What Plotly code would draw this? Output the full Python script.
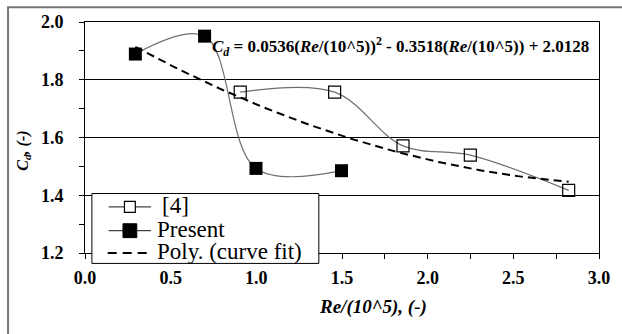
import numpy as np
import plotly.graph_objects as go

# Reference data set [4]
ref_re = [0.906, 1.457, 1.856, 2.249, 2.823]
ref_cd = [1.757, 1.757, 1.571, 1.539, 1.417]

# Present measurements
present_re = [0.294, 0.698, 0.998, 1.497]
present_cd = [1.889, 1.951, 1.493, 1.485]

# Quadratic curve-fit coefficients (a*x^2 + b*x + c)
fit_coeffs = [0.0536, -0.3518, 2.0128]
fit_range = [0.294, 2.823]

x_ticks = [0.0, 0.5, 1.0, 1.5, 2.0, 2.5, 3.0]
y_ticks = [1.2, 1.4, 1.6, 1.8, 2.0]

series_names = ["[4]", "Present", "Poly. (curve fit)"]

W, H = 622, 334
L, R, T, B = 85, 16, 20, 81
pw, ph = W - L - R, H - T - B


def px(x):
    """Pixel column -> paper fraction."""
    return (x - L) / pw


def py(y):
    """Pixel row -> paper fraction."""
    return (H - B - y) / ph


fit_x = np.linspace(fit_range[0], fit_range[1], 120)
fit_y = np.polyval(fit_coeffs, fit_x)

serif = "Liberation Serif"
curve_grey = "#6e6e6e"
fit_dash = "9px,6px"

fig = go.Figure()
fig.add_trace(go.Scatter(
    x=ref_re, y=ref_cd, name=series_names[0], mode="lines+markers",
    line=dict(color=curve_grey, width=1.2, shape="spline", smoothing=1),
    marker=dict(symbol="square-open", size=12, color="black", line=dict(width=1.2)),
))
fig.add_trace(go.Scatter(
    x=present_re, y=present_cd, name=series_names[1], mode="lines+markers",
    line=dict(color=curve_grey, width=1.2, shape="spline", smoothing=1),
    marker=dict(symbol="square", size=13, color="black"),
))
fig.add_trace(go.Scatter(
    x=fit_x, y=fit_y, name=series_names[2], mode="lines",
    line=dict(color="black", width=2, dash="8px,5px"),
))

axis_common = dict(
    showline=True, linecolor="black", linewidth=1, mirror=True,
    ticks="outside", ticklen=5, tickcolor="black", tickwidth=1,
    tickfont=dict(family=serif, size=18, color="black", weight="bold"),
    tickformat=".1f", zeroline=False,
)

fig.update_xaxes(
    range=[0, 3], tickvals=x_ticks, showgrid=False,
    minor=dict(dtick=0.25, ticks="outside", ticklen=5, tickcolor="black", showgrid=False),
    ticklabelstandoff=3,
    **axis_common,
)
fig.update_yaxes(
    range=[1.2, 2.0], tickvals=y_ticks, showgrid=True, gridcolor="black", gridwidth=1,
    minor=dict(dtick=0.1, ticks="outside", ticklen=5, tickcolor="black", showgrid=False),
    ticklabelstandoff=12,
    **axis_common,
)

equation = ("<i>C<sub>d</sub></i> = 0.0536(<i>Re</i>/(10^5))<sup>2</sup> - 0.3518(<i>Re</i>/(10^5))"
            " + 2.0128")

# Legend box drawn by hand so that entry spacing is compact
leg_box = dict(x0=92, x1=322, y0=193, y1=263.5)
row_y = [205, 229, 251.5]
glyph_x = (109, 152)
text_x = [161, 156, 156]

shapes = [
    # outer frame of the figure
    dict(type="rect", xref="paper", yref="paper",
         x0=px(7), x1=px(640), y0=py(350), y1=py(5),
         line=dict(color="#777777", width=2), layer="below"),
    # legend box
    dict(type="rect", xref="paper", yref="paper",
         x0=px(leg_box["x0"]), x1=px(leg_box["x1"]), y0=py(leg_box["y1"]), y1=py(leg_box["y0"]),
         line=dict(color="black", width=1), fillcolor="white", layer="above"),
]
# legend glyphs: line + marker for the two data series, dashed line for the fit
for i in range(2):
    shapes.append(dict(type="line", xref="paper", yref="paper",
                       x0=px(glyph_x[0]), x1=px(glyph_x[1]), y0=py(row_y[i] + 1.5), y1=py(row_y[i] + 1.5),
                       line=dict(color="#444444", width=1.2), layer="above"))
cx = (glyph_x[0] + glyph_x[1]) / 2
shapes.append(dict(type="rect", xref="paper", yref="paper",
                   x0=px(cx - 5.5), x1=px(cx + 5.5), y0=py(row_y[0] + 7), y1=py(row_y[0] - 4),
                   line=dict(color="black", width=1.2), fillcolor="white", layer="above"))
shapes.append(dict(type="rect", xref="paper", yref="paper",
                   x0=px(cx - 7), x1=px(cx + 7), y0=py(row_y[1] + 8.5), y1=py(row_y[1] - 5.5),
                   line=dict(color="black", width=1), fillcolor="black", layer="above"))
shapes.append(dict(type="line", xref="paper", yref="paper",
                   x0=px(108), x1=px(148), y0=py(row_y[2] + 1.5), y1=py(row_y[2] + 1.5),
                   line=dict(color="black", width=2, dash=fit_dash), layer="above"))

annotations = [
    dict(text="<b>" + equation + "</b>", xref="paper", yref="paper",
         x=px(212), y=py(45), xanchor="left", yanchor="middle", showarrow=False,
         font=dict(family=serif, size=17, color="black")),
    dict(text="<b><i>Re/(10^5), (-)</i></b>", xref="paper", yref="paper",
         x=px(377), y=py(307), xanchor="center", yanchor="middle", showarrow=False,
         font=dict(family=serif, size=19, color="black")),
    dict(text="<b><i>C<sub>d</sub>, (-)</i></b>", xref="paper", yref="paper",
         x=px(23), y=py(150), xanchor="center", yanchor="middle", showarrow=False,
         textangle=-90, font=dict(family=serif, size=16, color="black")),
]
for name, tx, ty in zip(series_names, text_x, row_y):
    annotations.append(dict(text=name, xref="paper", yref="paper",
                            x=px(tx), y=py(ty), xanchor="left", yanchor="middle",
                            showarrow=False, font=dict(family=serif, size=23, color="black")))

fig.update_layout(
    width=W, height=H,
    margin=dict(l=L, r=R, t=T, b=B),
    paper_bgcolor="white", plot_bgcolor="white",
    font=dict(family=serif, color="black"),
    showlegend=False,
    annotations=annotations,
    shapes=shapes,
)

fig.write_html("out.html")
